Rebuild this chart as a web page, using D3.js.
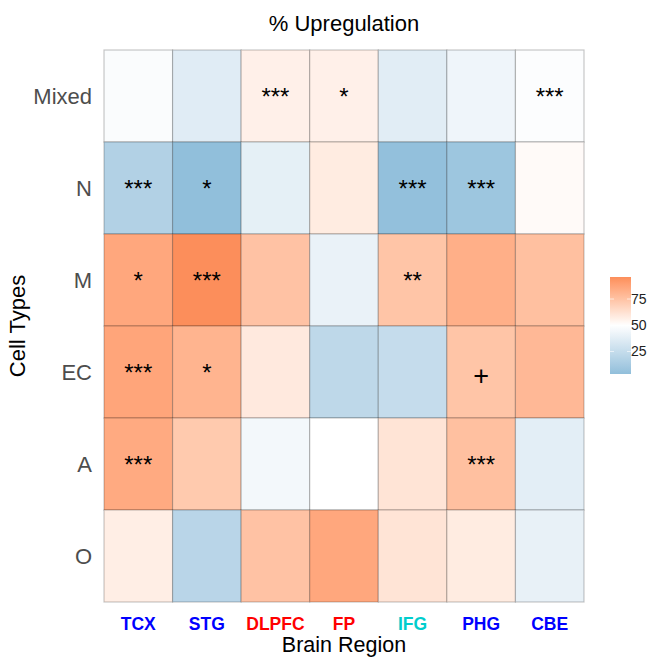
<!DOCTYPE html>
<html>
<head>
<meta charset="utf-8">
<script src="https://cdn.jsdelivr.net/npm/d3@7"></script>
<style>
  html, body { margin: 0; padding: 0; background: #fff; }
  svg { display: block; font-family: "Liberation Sans", Arial, Helvetica, sans-serif; }
</style>
</head>
<body>
<svg id="chart" width="647" height="657"></svg>
<script>
// Brain regions (columns) and their label colours
const regions = ["TCX", "STG", "DLPFC", "FP", "IFG", "PHG", "CBE"];
const regionColors = ["#0000FF", "#0000FF", "#FF0000", "#FF0000", "#00CDCD", "#0000FF", "#0000FF"];

// Cell types (rows, top to bottom)
const cellTypes = ["Mixed", "N", "M", "EC", "A", "O"];

// % upregulated genes per cell type, one value per region
const pctMixed = [48, 36.5, 56, 56, 37, 43, 48.5];
const pctN     = [17, 3.5, 39, 58, 4.5, 8.5, 52];
const pctM     = [86, 96, 75, 41, 74, 83, 76];
const pctEC    = [87, 81, 59, 22, 25, 74, 79];
const pctA     = [85, 72, 45, 50, 61, 76, 38];
const pctO     = [57, 20, 75, 86, 61, 58, 40];

// Significance marks per cell type, one per region
const sigMixed = ["", "", "***", "*", "", "", "***"];
const sigN     = ["***", "*", "", "", "***", "***", ""];
const sigM     = ["*", "***", "", "", "**", "", ""];
const sigEC    = ["***", "*", "", "", "", "+", ""];
const sigA     = ["***", "", "", "", "", "***", ""];
const sigO     = ["", "", "", "", "", "", ""];

const legendTicks = [25, 50, 75];

const pctRows = [pctMixed, pctN, pctM, pctEC, pctA, pctO];
const sigRows = [sigMixed, sigN, sigM, sigEC, sigA, sigO];

const cells = [];
cellTypes.forEach((ct, i) => {
  regions.forEach((rg, j) => {
    cells.push({ cell: ct, region: rg, value: pctRows[i][j], sig: sigRows[i][j] });
  });
});

const svg = d3.select("#chart");
const panel = { left: 104, right: 584, top: 50, bottom: 602 };

const x = d3.scaleBand().domain(regions).range([panel.left, panel.right]);
const y = d3.scaleBand().domain(cellTypes).range([panel.top, panel.bottom]);

// Diverging fill: blue below the 50% midpoint, orange above, white at 50
const values = cells.map(d => d.value);
const [vMin, vMax] = d3.extent(values);
const mid = 50;
const span = Math.max(mid - vMin, vMax - mid);
const rampLow = d3.interpolateLab("#91bfdb", "#ffffff");
const rampHigh = d3.interpolateLab("#ffffff", "#fc8d59");
const fill = v => {
  const t = 0.5 + (v - mid) / (2 * span);
  return t < 0.5 ? rampLow(t / 0.5) : rampHigh((t - 0.5) / 0.5);
};

// Tiles
svg.append("g")
  .selectAll("rect")
  .data(cells)
  .join("rect")
  .attr("x", d => x(d.region))
  .attr("y", d => y(d.cell))
  .attr("width", x.bandwidth())
  .attr("height", y.bandwidth())
  .attr("fill", d => fill(d.value))
  .attr("stroke", "rgba(0,0,0,0.22)")
  .attr("stroke-width", 1.2);

// Significance labels
svg.append("g")
  .selectAll("text")
  .data(cells.filter(d => d.sig))
  .join("text")
  .attr("x", d => x(d.region) + x.bandwidth() / 2)
  .attr("y", d => y(d.cell) + y.bandwidth() / 2 + (d.sig === "+" ? 13 : 9))
  .attr("text-anchor", "middle")
  .attr("font-size", d => d.sig === "+" ? 27 : 24)
  .attr("fill", "#000")
  .text(d => d.sig);

// Y axis labels
svg.append("g")
  .selectAll("text")
  .data(cellTypes)
  .join("text")
  .attr("x", panel.left - 12)
  .attr("y", d => y(d) + y.bandwidth() / 2 + 8)
  .attr("text-anchor", "end")
  .attr("font-size", 22)
  .attr("fill", "#4d4d4d")
  .text(d => d);

// X axis labels
svg.append("g")
  .selectAll("text")
  .data(regions)
  .join("text")
  .attr("x", d => x(d) + x.bandwidth() / 2)
  .attr("y", 629.5)
  .attr("text-anchor", "middle")
  .attr("font-size", 17.5)
  .attr("font-weight", "bold")
  .attr("fill", (d, i) => regionColors[i])
  .text(d => d);

// Titles
const cx = (panel.left + panel.right) / 2;
svg.append("text")
  .attr("x", cx).attr("y", 31)
  .attr("text-anchor", "middle")
  .attr("font-size", 22)
  .attr("fill", "#000")
  .text("% Upregulation");

svg.append("text")
  .attr("x", cx).attr("y", 652.4)
  .attr("text-anchor", "middle")
  .attr("font-size", 21.5)
  .attr("fill", "#000")
  .text("Brain Region");

svg.append("text")
  .attr("transform", `translate(25,${(panel.top + panel.bottom) / 2}) rotate(-90)`)
  .attr("text-anchor", "middle")
  .attr("font-size", 22)
  .attr("fill", "#000")
  .text("Cell Types");

// Colour bar legend
const bar = { x: 610, w: 21, top: 277, bottom: 374 };
const ly = d3.scaleLinear().domain([vMin, vMax]).range([bar.bottom, bar.top]);

const defs = svg.append("defs");
const grad = defs.append("linearGradient")
  .attr("id", "pctGrad")
  .attr("x1", 0).attr("y1", 1).attr("x2", 0).attr("y2", 0);
d3.range(0, 1.0001, 0.02).forEach(t => {
  grad.append("stop")
    .attr("offset", t)
    .attr("stop-color", fill(vMin + t * (vMax - vMin)));
});

svg.append("rect")
  .attr("x", bar.x).attr("y", bar.top)
  .attr("width", bar.w).attr("height", bar.bottom - bar.top)
  .attr("fill", "url(#pctGrad)");

const tickG = svg.append("g");
legendTicks.forEach(v => {
  tickG.append("line")
    .attr("x1", bar.x).attr("x2", bar.x + 4)
    .attr("y1", ly(v)).attr("y2", ly(v))
    .attr("stroke", "#fff").attr("stroke-width", 0.8).attr("stroke-opacity", 0.8);
  tickG.append("line")
    .attr("x1", bar.x + bar.w - 4).attr("x2", bar.x + bar.w)
    .attr("y1", ly(v)).attr("y2", ly(v))
    .attr("stroke", "#fff").attr("stroke-width", 0.8).attr("stroke-opacity", 0.8);
  tickG.append("text")
    .attr("x", bar.x + bar.w + 0)
    .attr("y", ly(v) + 5)
    .attr("font-size", 14)
    .attr("fill", "#222")
    .text(v);
});
</script>
</body>
</html>
